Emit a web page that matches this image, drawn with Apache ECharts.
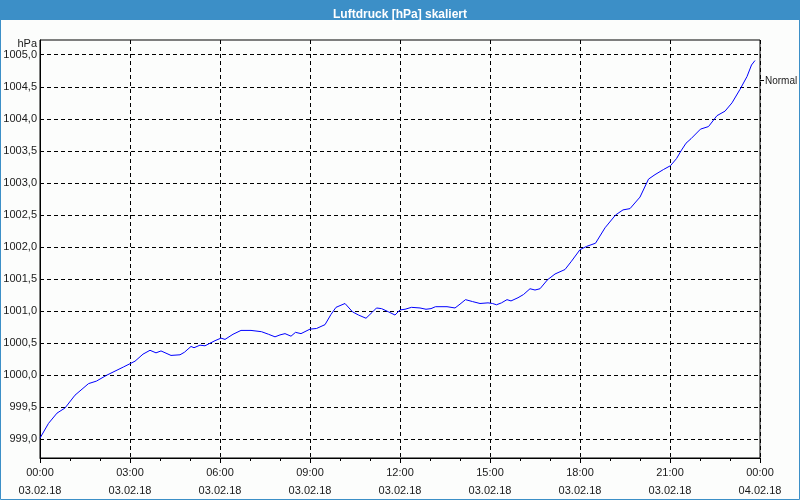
<!DOCTYPE html>
<html>
<head>
<meta charset="utf-8">
<script src="https://cdn.jsdelivr.net/npm/echarts@6/dist/echarts.min.js"></script>
<style>html,body{margin:0;padding:0;background:#fcfdfc}#c{width:800px;height:500px}</style>
</head>
<body>
<div id="c"></div>
<script>
// time in minutes since 03.02.18 00:00
const minutes = [0,17,34,50,70,97,113,133,167,190,206,220,232,242,262,280,289,302,308,320,330,350,362,370,386,402,422,443,457,470,480,490,502,511,522,540,553,570,582,592,610,625,637,652,664,673,683,697,710,720,730,743,760,772,782,791,814,830,840,851,865,880,896,905,913,923,934,942,956,967,980,990,1000,1015,1030,1050,1063,1080,1093,1111,1130,1151,1166,1180,1200,1217,1230,1247,1261,1273,1282,1292,1302,1321,1337,1354,1370,1384,1400,1414,1423,1430];
const pressure = [999.02,999.25,999.41,999.49,999.69,999.87,999.91,1000.00,1000.13,1000.22,1000.33,1000.39,1000.35,1000.38,1000.31,1000.32,1000.36,1000.45,1000.43,1000.47,1000.46,1000.54,1000.58,1000.56,1000.64,1000.70,1000.70,1000.68,1000.64,1000.60,1000.63,1000.65,1000.61,1000.67,1000.65,1000.72,1000.73,1000.79,1000.95,1001.06,1001.12,1000.99,1000.94,1000.89,1000.98,1001.05,1001.04,1000.99,1000.94,1001.02,1001.03,1001.06,1001.05,1001.03,1001.04,1001.07,1001.07,1001.05,1001.11,1001.18,1001.15,1001.12,1001.13,1001.12,1001.10,1001.13,1001.18,1001.16,1001.21,1001.26,1001.35,1001.33,1001.35,1001.49,1001.58,1001.65,1001.78,1001.96,1002.01,1002.06,1002.30,1002.50,1002.58,1002.60,1002.78,1003.06,1003.13,1003.21,1003.27,1003.38,1003.50,1003.62,1003.69,1003.84,1003.88,1004.05,1004.12,1004.25,1004.46,1004.66,1004.84,1004.91];
const yTicks = [999.0,999.5,1000.0,1000.5,1001.0,1001.5,1002.0,1002.5,1003.0,1003.5,1004.0,1004.5,1005.0];
const xTickLabels = {0:'00:00\n03.02.18',180:'03:00\n03.02.18',360:'06:00\n03.02.18',540:'09:00\n03.02.18',720:'12:00\n03.02.18',900:'15:00\n03.02.18',1080:'18:00\n03.02.18',1260:'21:00\n03.02.18',1440:'00:00\n04.02.18'};
const titleText = 'Luftdruck [hPa] skaliert';
const yUnit = 'hPa';
const sideLabel = 'Normal';

const FONT = '"Liberation Sans", Arial, sans-serif';
const chart = echarts.init(document.getElementById('c'), null, {renderer:'canvas'});
const data = minutes.map((m,i)=>[m, pressure[i]]);
chart.setOption({
  backgroundColor:'#fcfdfc',
  animation:false,
  title:{text:titleText,left:'center',top:4,textStyle:{color:'#ffffff',fontSize:12,fontWeight:'bold',fontFamily:FONT}},
  graphic:[
    {type:'rect',z:-1,shape:{x:0,y:0,width:800,height:20},style:{fill:'#3c8fc7'}},
    {type:'rect',z:-1,shape:{x:0.5,y:0.5,width:799,height:499},style:{fill:null,stroke:'#3c8fc7',lineWidth:1}},
    {type:'line',shape:{x1:760,y1:80.5,x2:764,y2:80.5},style:{stroke:'#000',lineWidth:1}},
    {type:'text',x:765,y:81,style:{text:sideLabel,fill:'#1a1a1a',font:'10px '+FONT,verticalAlign:'middle'}}
  ],
  grid:{left:40,right:40,top:40,bottom:38,show:true,borderColor:'#000',borderWidth:1,backgroundColor:'transparent'},
  xAxis:{type:'value',min:0,max:1440,interval:180,
    axisLine:{lineStyle:{color:'#000'}},
    axisTick:{show:true,length:5,lineStyle:{color:'#000'}},
    minorTick:{show:true,splitNumber:3,length:3,lineStyle:{color:'#000'}},
    splitLine:{show:true,lineStyle:{color:'#000',type:[4,3],width:1}},
    axisLabel:{margin:6,lineHeight:18,color:'#1a1a1a',fontSize:11,fontFamily:FONT,formatter:v=>xTickLabels[v]||''}
  },
  yAxis:{type:'value',min:998.71,max:1005.23,
    name:yUnit,nameLocation:'end',nameGap:-4,
    nameTextStyle:{align:'right',verticalAlign:'middle',padding:[0,3,0,0],color:'#1a1a1a',fontSize:11,fontFamily:FONT},
    axisLine:{show:true,lineStyle:{color:'#000'}},
    axisTick:{show:false,customValues:yTicks},
    splitLine:{show:true,lineStyle:{color:'#000',type:[4,3],width:1}},
    axisLabel:{customValues:yTicks,margin:3,color:'#1a1a1a',fontSize:11,fontFamily:FONT,formatter:v=>v.toFixed(1).replace('.',',')}
  },
  series:[{type:'line',data:data,showSymbol:false,symbol:'none',lineStyle:{color:'#0000ff',width:1},itemStyle:{color:'#0000ff'}}]
});
</script>
</body>
</html>
